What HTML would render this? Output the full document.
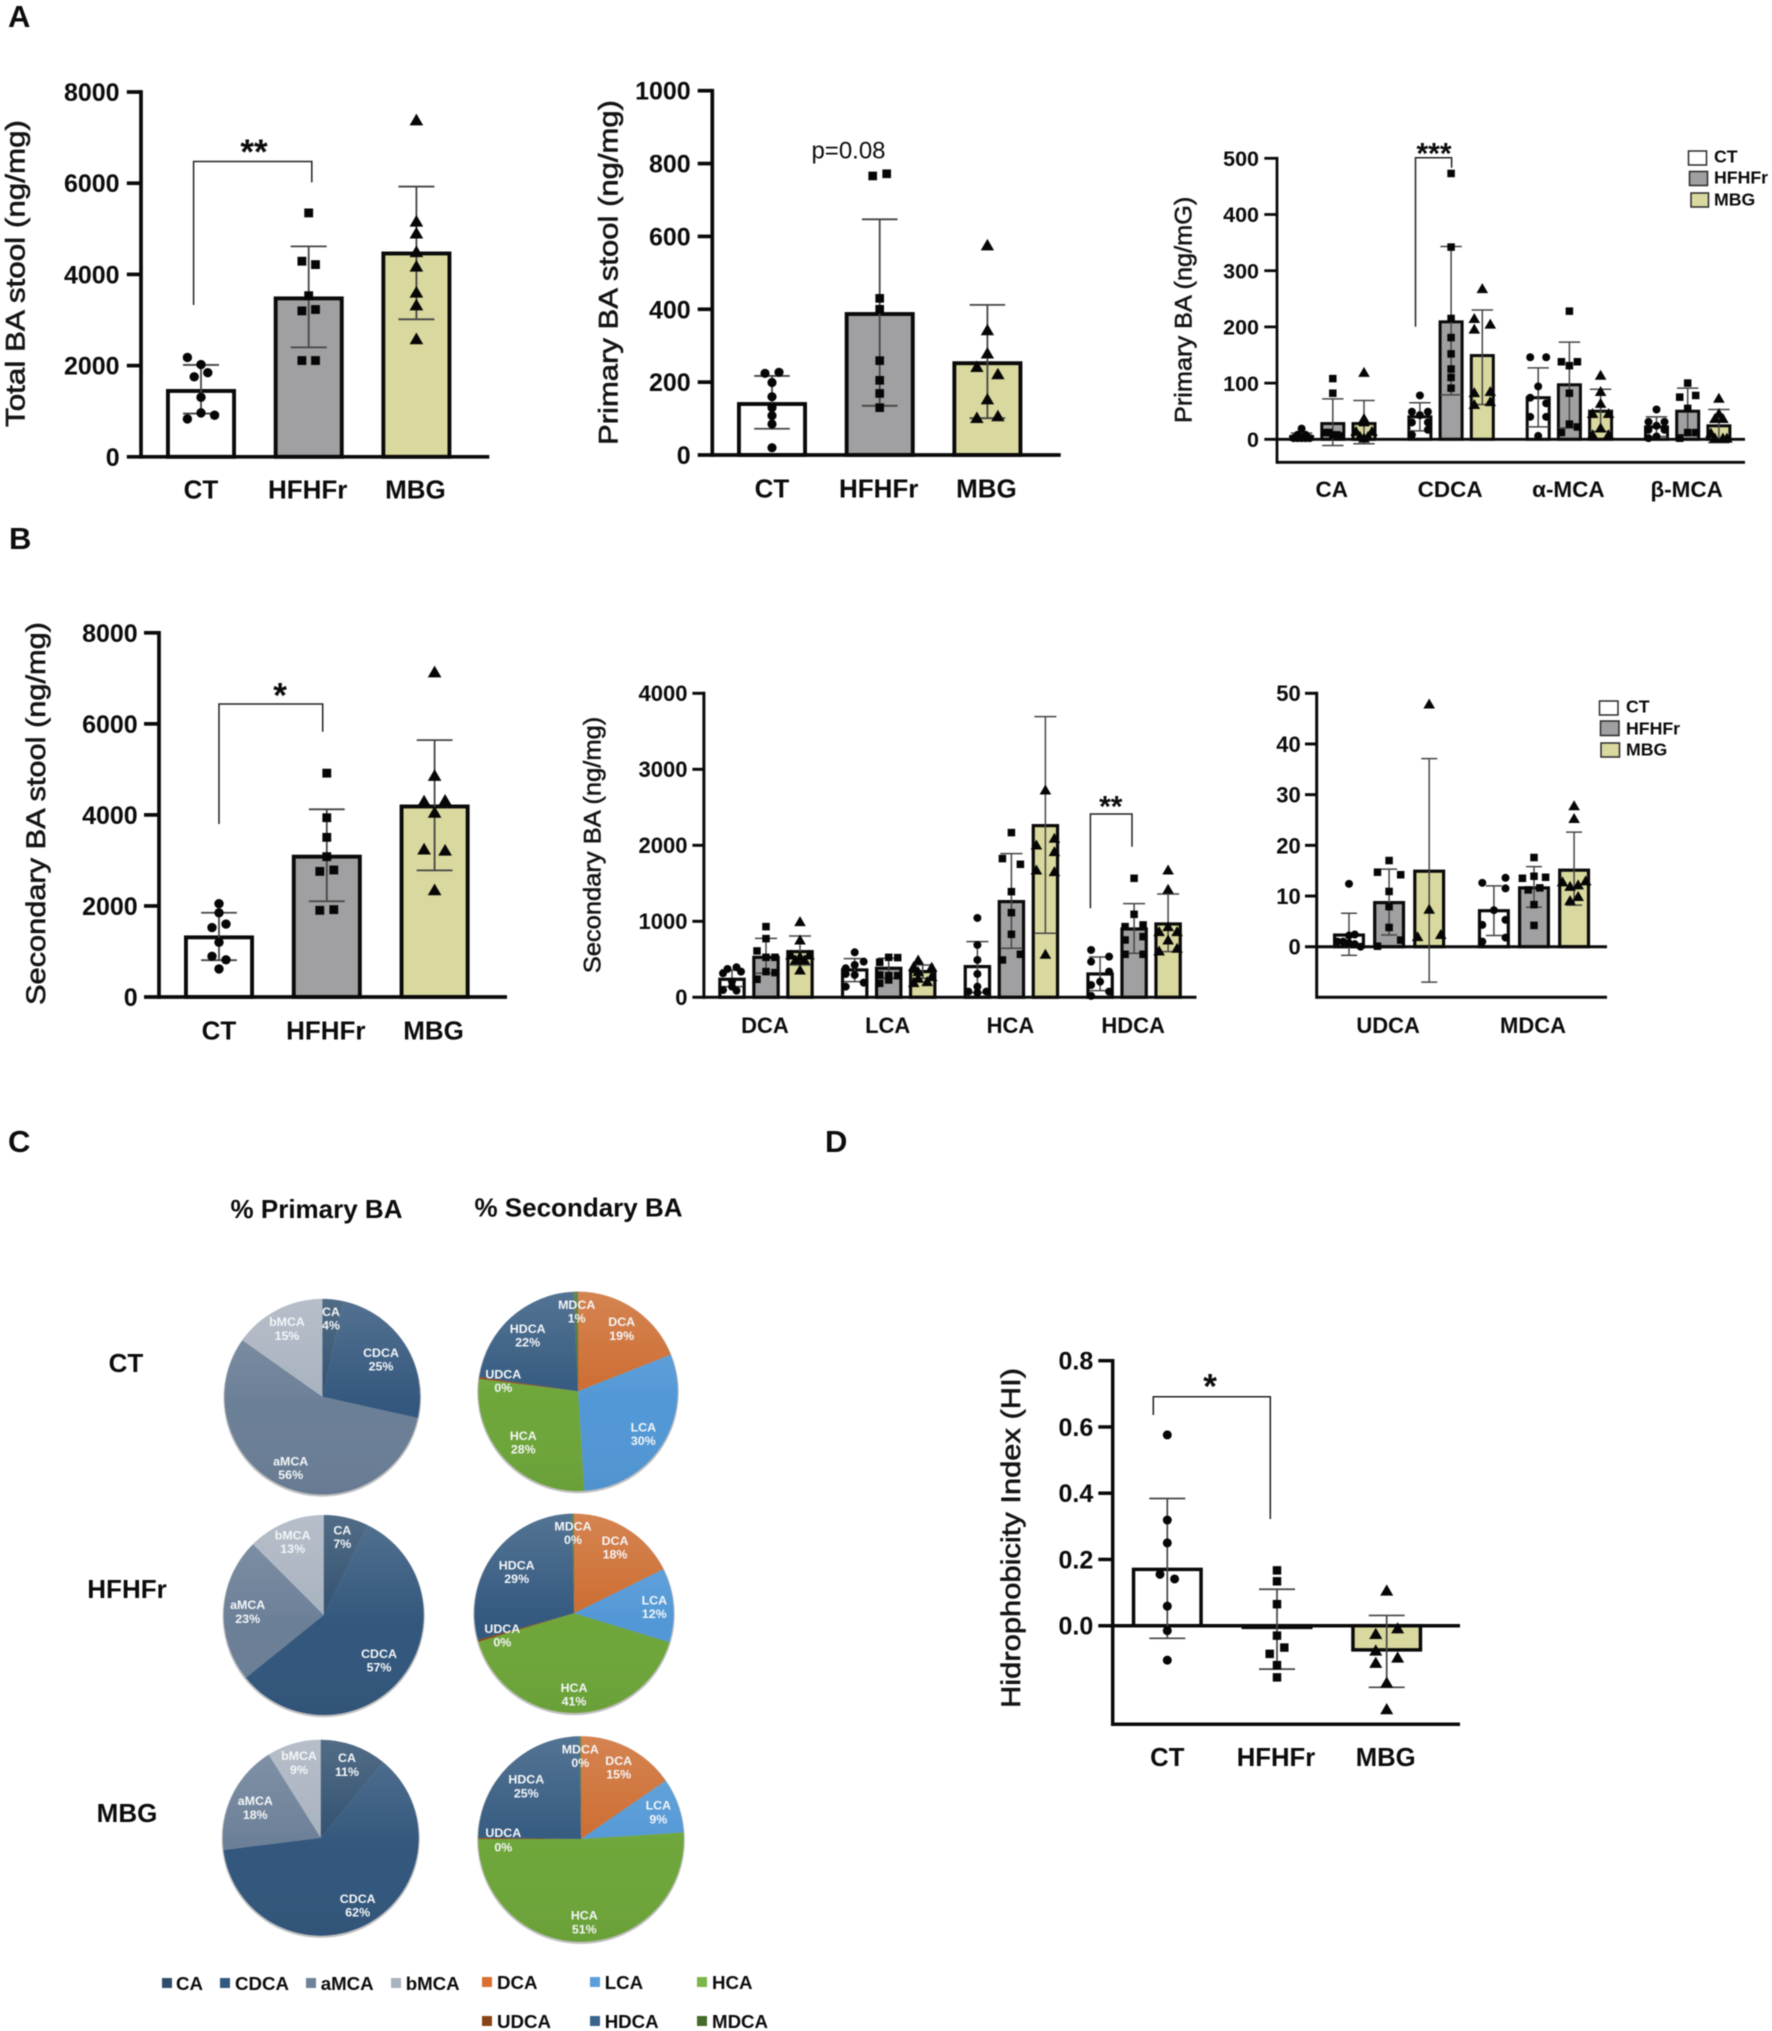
<!DOCTYPE html>
<html lang="en">
<head>
<meta charset="utf-8">
<title>Bile acid panels</title>
<style>
html,body{margin:0;padding:0;background:#fff;width:1772px;height:2031px;overflow:hidden}
svg{display:block;filter:blur(.4px);font-family:"Liberation Sans",Arial,sans-serif}
</style>
</head>
<body>
<svg id="figure" xmlns="http://www.w3.org/2000/svg" width="1772" height="2031" viewBox="0 0 1772 2031">
<rect width="1772" height="2031" fill="#fff"/>
<defs>
<linearGradient id="pieSheen" x1="0" y1="0" x2="0" y2="1">
<stop offset="0" stop-color="#fff" stop-opacity=".16"/>
<stop offset=".55" stop-color="#fff" stop-opacity="0"/>
<stop offset="1" stop-color="#000" stop-opacity=".04"/>
</linearGradient>
</defs>
</svg>
<script>
/* ---------- shared labels ---------- */
const groupNames = ['CT', 'HFHFr', 'MBG'];

/* ---------- A1 total BA ---------- */
const totalTickVals = [0, 2000, 4000, 6000, 8000];
const totalTickLabels = ['0', '2000', '4000', '6000', '8000'];
const totalMeans = [[1444, 3474, 4459]];
const totalHi = [[2015, 4615, 5926]];
const totalLo = [[948, 2400, 3015]];
const totalPts = [[
  [2178, 2022, 1844, 1755, 1304, 963, 911, 830],
  [5348, 4289, 4215, 3533, 3200, 3230, 2111, 2111],
  [7385, 5163, 4904, 4496, 4178, 3607, 3326, 2585]
]];
const totalJit = [[
  [-2, 0, 1, -1, 0, 0, 2, -2],
  [0, -1, 1, 0, -1, 1, -1, 1],
  [0, 0, 0, 0, 0, 0, 0, 0]
]];

/* ---------- A2 primary BA ---------- */
const primaryTickVals = [0, 200, 400, 600, 800, 1000];
const primaryTickLabels = ['0', '200', '400', '600', '800', '1000'];
const primaryMeans = [[140, 387, 252]];
const primaryHi = [[217, 647, 412]];
const primaryLo = [[72, 135, 101]];
const primaryPts = [[
  [224, 227, 199, 160, 130, 108, 85, 20],
  [766, 772, 430, 400, 259, 205, 169, 130],
  [576, 343, 279, 242, 222, 153, 102, 107]
]];
const primaryJit = [[
  [-1, 1, 0, 0, 0, 0, 0, 0],
  [-1, 1, 0, 0, 0, 0, 0, 0],
  [0, 0, 0, -1.5, 1.5, 0, -1.5, 1.5]
]];

/* ---------- A3 primary species ---------- */
const speciesCats = ['CA', 'CDCA', 'α-MCA', 'β-MCA'];
const speciesTickVals = [0, 100, 200, 300, 400, 500];
const speciesTickLabels = ['0', '100', '200', '300', '400', '500'];
const speciesMeans = [[5, 28, 28], [40, 209, 149], [74, 97, 50], [22, 50, 24]];
const speciesHi = [[11, 72, 69], [65, 343, 230], [127, 173, 89], [40, 91, 53]];
const speciesLo = [[-1, -11, -8], [15, 79, 62], [22, 20, 14], [5, 8, -6]];
const speciesPts = [
  [[19, 8, 8, 2, 2, 2, 2, 2], [108, 82, 12, 12, 8, 8, 6, 6], [119, 37, 31, 14, 14, 5, 5, 2]],
  [[78, 49, 49, 43, 30, 30, 8, 17], [473, 342, 215, 181, 152, 125, 110, 91], [268, 215, 205, 196, 83, 85, 62, 67]],
  [[146, 146, 94, 74, 64, 40, 40, 6], [228, 138, 138, 131, 82, 27, 22, 12], [114, 85, 64, 46, 46, 20, 8, 8]],
  [[53, 31, 31, 24, 17, 17, 2, 5], [100, 75, 78, 55, 12, 12, 2, 2], [73, 46, 37, 37, 11, 2, 2, 2]]
];
const speciesJit = [
  [[0, -1, 1, -2, -1, 0, 1, 2], [0, 0, -2, -1, 0, 1, 2, 1], [0, 0, 0, -2, 2, -1, 1, 0]],
  [[0, -2, 2, 0, -2, 2, -2, 2], [0, 0, 0, 0, 0, 0, 0, 0], [0, -2, 2, -2, -2, 2, -2, 2]],
  [[-2, 2, 0, -2, 2, -2, 2, 0], [0, -2, 2, 0, 0, 0, 2, -2], [0, 0, 0, -2, 2, 0, -2, 2]],
  [[0, -2, 2, 0, -2, 2, -2, 0], [0, -2, 2, 0, 0, 2, -2, -2], [0, 0, -1, 1, -2, -1, 1, 2]]
];

/* ---------- B1 secondary BA ---------- */
const secondaryTickVals = [0, 2000, 4000, 6000, 8000];
const secondaryTickLabels = ['0', '2000', '4000', '6000', '8000'];
const secondaryMeans = [[1310, 3083, 4185]];
const secondaryHi = [[1850, 4123, 5642]];
const secondaryLo = [[809, 2104, 2782]];
const secondaryPts = [[
  [2050, 1850, 1526, 1603, 1202, 894, 817, 617],
  [4917, 3938, 3507, 3083, 2759, 2790, 1904, 1919],
  [7137, 4863, 4300, 4316, 4054, 3245, 3222, 2351]
]];
const secondaryJit = [[
  [0, 0, -1, 1, 0, -1, 1, 0],
  [0, 0, 0, 0, -1, 1, -1, 1],
  [0, 0, -1.5, 1.5, 0, -1.5, 1.5, 0]
]];

/* ---------- B2 secondary species ---------- */
const secCats = ['DCA', 'LCA', 'HCA', 'HDCA'];
const secTickVals = [0, 1000, 2000, 3000, 4000];
const secTickLabels = ['0', '1000', '2000', '3000', '4000'];
const secMeans = [[237, 526, 601], [360, 382, 338], [404, 1259, 2259], [307, 899, 965]];
const secHi = [[360, 776, 807], [509, 513, 425], [732, 1890, 3693], [531, 1232, 1360]];
const secLo = [[140, 316, 425], [206, 250, 250], [61, 645, 842], [88, 579, 601]];
const secPts = [
  [[395, 373, 338, 316, 206, 140, 96, 88], [930, 772, 610, 526, 526, 338, 325, 237], [996, 754, 557, 535, 557, 491, 491, 360]],
  [[592, 382, 469, 425, 307, 294, 193, 140], [461, 526, 522, 294, 285, 285, 184, 228], [491, 404, 395, 338, 193, 206, 272, 250]],
  [[1044, 689, 491, 307, 140, 75, 75, 61], [2167, 1825, 1750, 1390, 1114, 829, 566, 491], [2728, 2004, 2092, 1917, 1675, 1654, 566]],
  [[623, 469, 535, 338, 162, 75, 206, 18], [1566, 1092, 930, 952, 754, 798, 566, 566], [1675, 1421, 930, 864, 864, 754, 610, 645]]
];
const secJit = [
  [[1, -1, 2, -2, 0, 0, -2, 1], [0, 0, -2, 0, 2, 0, 2, -2], [0, 0, -2, 0, 2, -1, 1, 0]],
  [[0, -2, 2, 0, -2, 0, 2, -2], [-2, 0, 2, -2, 0, 2, -2, 0], [-1, -2, 2, -1, -2, 1, 2, -1]],
  [[0, 0, 0, 0, 0, -2, 2, 0], [0, -2, 2, 0, 0, 0, 2, -2], [0, -2, 2, 2, -2, 2, 0]],
  [[-2, -2, 2, 2, -2, 2, 0, -2], [0, 0, -2, 2, -2, 2, -2, 2], [0, 0, 0, -2, 2, 0, -2, 2]]
];

/* ---------- B3 UDCA / MDCA ---------- */
const minorCats = ['UDCA', 'MDCA'];
const minorTickVals = [0, 10, 20, 30, 40, 50];
const minorTickLabels = ['0', '10', '20', '30', '40', '50'];
const minorMeans = [[2.3, 8.7, 14.9], [7.1, 11.6, 15.1]];
const minorHi = [[6.6, 15.3, 37.1], [12, 15.8, 22.6]];
const minorLo = [[-1.7, 2.3, -7], [2.2, 7.8, 8.2]];
const minorPts = [
  [[12.4, 2.4, 2.2, 1, 1, 0.5, 0, 0.7], [17, 14.7, 14.2, 10.9, 7.9, 3.8, 1.3, 0.1], [47.9, 7.4, 2, 2.4]],
  [[12.6, 13.6, 11.5, 7.2, 5.3, 4.3, 1.8, 1], [17.6, 13.5, 13.7, 13.9, 11.2, 11.6, 8.3, 4.2], [27.8, 25.3, 12.8, 13, 11.9, 12.2, 9.9, 9.1]]
];
const minorJit = [
  [[0, 1, 0, -2, -1, 1, 2, 0], [0, -2, 2, 0, 0, 0, 2, -2], [0, 0, -2, 2]],
  [[-2, 2, 2, 0, 2, -2, 2, -2], [0, -2, 2, 0, -1, 1, 0, 0], [0, 0, -2, 2, -0.7, 0.7, 0.7, -0.7]]
];

/* ---------- D hydrophobicity ---------- */
const hiTickVals = [0, 0.2, 0.4, 0.6, 0.8];
const hiTickLabels = ['0.0', '0.2', '0.4', '0.6', '0.8'];
const hiMeans = [[0.17, -0.005, -0.073]];
const hiHi = [[0.384, 0.11, 0.031]];
const hiLo = [[-0.038, -0.131, -0.186]];
const hiPts = [[
  [0.576, 0.319, 0.25, 0.155, 0.141, 0.059, -0.015, -0.104],
  [0.167, 0.134, 0.065, -0.03, -0.066, -0.085, -0.119, -0.156],
  [0.106, -0.008, -0.025, -0.075, -0.096, -0.112, -0.172, -0.252]
]];
const hiJit = [[
  [0, 0, 0, -1, 1, 0, 0, 0],
  [0, 0, 0, 0, 1, -1, 0, 0],
  [0, 1.5, -1.5, -1.5, 1.5, -1.5, 0, 0]
]];

/* ---------- C pies ---------- */
const primarySpecies = ['CA', 'CDCA', 'aMCA', 'bMCA'];
const secondarySpecies = ['DCA', 'LCA', 'HCA', 'UDCA', 'HDCA', 'MDCA'];
const pieCtPrimary = [3.5, 25, 56.3, 15.2];
const pieHfPrimary = [7.3, 56.9, 23.3, 12.5];
const pieMbgPrimary = [11, 62, 18.1, 8.9];
const pieCtSecondary = [19, 30, 28, 0.3, 22, 0.7];
const pieHfSecondary = [17.7, 12, 40.7, 0.3, 29, 0.3];
const pieMbgSecondary = [15.4, 8.6, 51, 0.2, 24.6, 0.2];
const pieCtPrimaryText = ['4%', '25%', '56%', '15%'];
const pieHfPrimaryText = ['7%', '57%', '23%', '13%'];
const pieMbgPrimaryText = ['11%', '62%', '18%', '9%'];
const pieCtSecondaryText = ['19%', '30%', '28%', '0%', '22%', '1%'];
const pieHfSecondaryText = ['18%', '12%', '41%', '0%', '29%', '0%'];
const pieMbgSecondaryText = ['15%', '9%', '51%', '0%', '25%', '0%'];

/* ---------- helpers ---------- */
const svg = document.getElementById('figure');
const NS = 'http://www.w3.org/2000/svg';
function el(parent, tag, attrs) {
  const n = document.createElementNS(NS, tag);
  for (const k in attrs) n.setAttribute(k, attrs[k]);
  parent.appendChild(n);
  return n;
}
function txt(parent, str, x, y, fs, opts) {
  const o = opts || {};
  const n = el(parent, 'text', {
    x: x, y: y, 'font-size': fs,
    'font-weight': o.weight || 'bold',
    'text-anchor': o.anchor || 'middle',
    fill: o.fill || '#0c0c0c'
  });
  n.textContent = str;
  return n;
}
const barFills = ['#ffffff', '#a0a0a2', '#d9d89e'];

function marker(g, kind, cx, cy, s) {
  if (kind === 0) return el(g, 'circle', { cx: cx, cy: cy, r: s * 0.5, fill: '#060606' });
  if (kind === 1) return el(g, 'rect', { x: cx - s * 0.47, y: cy - s * 0.47, width: s * 0.94, height: s * 0.94, fill: '#060606' });
  const w = s * 1.45, h = s * 1.25;
  return el(g, 'polygon', {
    points: cx + ',' + (cy - h * 0.55) + ' ' + (cx - w / 2) + ',' + (cy + h * 0.45) + ' ' + (cx + w / 2) + ',' + (cy + h * 0.45),
    fill: '#060606'
  });
}

function drawPanel(name, L, D) {
  const root = el(svg, 'g', {});
  
  
  const maxV = D.tickVals[D.tickVals.length - 1];
  const y = v => L.zero - v * (L.zero - L.top) / maxV;
  const xOf = (g, s) => L.x0 + g * L.groupStep + s * L.barStep;

  D.means.forEach((row, g) => {
    row.forEach((m, s) => {
      const cx = xOf(g, s);
      const catName = D.perBar ? D.cats[s] : D.cats[g] + '-' + groupNames[s];
      const top = Math.min(y(m), L.zero), h = Math.abs(y(m) - L.zero);
      const bar = el(root, 'rect', {
        x: cx - L.barW / 2 + L.barSW / 2, y: top, width: L.barW - L.barSW, height: h,
        fill: barFills[s], stroke: '#0a0a0a', 'stroke-width': L.barSW
      });
      
      
    });
  });

  /* axes */
  const axis = el(root, 'g', { stroke: '#0a0a0a', 'stroke-width': L.axisW, fill: 'none' });
  
  
  const bottom = L.bottom || L.zero;
  el(axis, 'line', { x1: L.axisX, x2: L.axisX, y1: L.top - L.axisW / 2, y2: bottom + L.axisW / 2 });
  el(axis, 'line', { x1: L.tickLeft, x2: L.xEnd, y1: L.zero, y2: L.zero });
  if (L.bottom) el(axis, 'line', { x1: L.axisX, x2: L.xEnd, y1: L.bottom, y2: L.bottom });
  D.tickVals.forEach((v, i) => {
    if (v !== 0) el(axis, 'line', { x1: L.tickLeft, x2: L.axisX, y1: y(v), y2: y(v) });
    const t = txt(root, D.tickLabels[i], L.tickRight, y(v) + L.tickFs * 0.36, L.tickFs, { anchor: 'end' });
    
    
  });

  /* error bars and points */
  D.means.forEach((row, g) => {
    row.forEach((m, s) => {
      const cx = xOf(g, s);
      const eg = el(root, 'g', { stroke: '#464646', 'stroke-width': L.errW, fill: 'none' });
      
      
      const yh = y(D.hi[g][s]), yl = y(D.lo[g][s]);
      el(eg, 'line', { x1: cx, x2: cx, y1: yh, y2: yl });
      el(eg, 'line', { x1: cx - L.capHalf, x2: cx + L.capHalf, y1: yh, y2: yh });
      el(eg, 'line', { x1: cx - L.capHalf, x2: cx + L.capHalf, y1: yl, y2: yl });
      D.pts[g][s].forEach((v, i) => {
        const p = marker(root, s, cx + D.jit[g][s][i] * L.jitUnit, y(v), L.mSize);
        
        
      });
    });
  });

  /* category labels */
  if (D.perBar) {
    D.cats.forEach((c, s) => {
      const t = txt(root, c, xOf(0, s) - (s ? 1 : 0), L.labelY + L.labelFs * 0.36, L.labelFs);
      
      
    });
  } else {
    D.cats.forEach((c, g) => {
      const t = txt(root, c, xOf(g, 1) + L.labelDx, L.labelY + L.labelFs * 0.36, L.labelFs);
      
      
    });
  }

  /* y title (not every panel has one) */
  if (L.title) {
    const T = L.title;
    const mid = (T.y0 + T.y1) / 2;
    const title = el(root, 'text', {
      transform: 'translate(' + T.x + ' ' + mid + ') rotate(-90)',
      'font-size': T.fs, 'text-anchor': 'middle', fill: '#141414',
      stroke: '#141414', 'stroke-width': T.sw === undefined ? 0.6 : T.sw,
      textLength: T.y1 - T.y0, lengthAdjust: 'spacingAndGlyphs'
    });
    title.textContent = T.text;
    
    
  }

  /* significance bracket */
  if (L.bracket) {
    const B = L.bracket;
    const pl = el(root, 'polyline', {
      points: B.l + ',' + B.lb + ' ' + B.l + ',' + B.top + ' ' + B.r + ',' + B.top + ' ' + B.r + ',' + B.rb,
      fill: 'none', stroke: '#222', 'stroke-width': 1.5
    });
    
    
  }
  if (L.star) {
    const S = L.star;
    const st = txt(root, S.t, S.x, S.y + S.fs * 0.58, S.fs);
    
    
  }
  return root;
}

/* ---------- panels ---------- */
drawPanel('panel-a-total-ba',
  { axisX: 141, top: 92, zero: 456.8, tickLeft: 126.8, xEnd: 489.3, axisW: 3.7, x0: 201, barStep: 107.7, groupStep: 0, barW: 70, barSW: 3.9, capHalf: 18, errW: 1.8, jitUnit: 6.8, mSize: 9.4, tickFs: 25, tickRight: 119.6, labelFs: 26, labelY: 489,
    title: { text: 'Total BA stool (ng/mg)', x: 24.5, y0: 120, y1: 427, fs: 27 },
    bracket: { l: 193.6, r: 311.8, top: 161.5, lb: 305, rb: 182.4 },
    star: { t: '**', x: 254, y: 143.6, fs: 35 } },
  { cats: groupNames, perBar: true, tickVals: totalTickVals, tickLabels: totalTickLabels, means: totalMeans, hi: totalHi, lo: totalLo, pts: totalPts, jit: totalJit });

const primaryPanel = drawPanel('panel-a-primary-ba',
  { axisX: 712.3, top: 90.7, zero: 455, tickLeft: 697.7, xEnd: 1060.7, axisW: 3.7, x0: 772, barStep: 107.7, groupStep: 0, barW: 70, barSW: 3.9, capHalf: 17.8, errW: 1.8, jitUnit: 7, mSize: 9.2, tickFs: 25, tickRight: 690.7, labelFs: 26, labelY: 488,
    title: { text: 'Primary BA stool (ng/mg)', x: 617.3, y0: 100, y1: 445, fs: 27 } },
  { cats: groupNames, perBar: true, tickVals: primaryTickVals, tickLabels: primaryTickLabels, means: primaryMeans, hi: primaryHi, lo: primaryLo, pts: primaryPts, jit: primaryJit });
const pVal = txt(primaryPanel, 'p=0.08', 848.5, 158.5, 24, { weight: 'normal' });



drawPanel('panel-a-primary-species',
  { axisX: 1277, top: 158.3, zero: 439.3, bottom: 462.3, tickLeft: 1264.3, xEnd: 1745, axisW: 2.8, x0: 1301.6, barStep: 31.2, groupStep: 118.3, barW: 25, barSW: 3, capHalf: 10.7, errW: 1.5, jitUnit: 4, mSize: 8, tickFs: 21.5, tickRight: 1259, labelFs: 22.5, labelY: 489, labelDx: -1,
    title: { text: 'Primary BA (ng/mG)', x: 1191.7, y0: 196.7, y1: 423, fs: 24, sw: 0.5 },
    bracket: { l: 1415.5, r: 1451.6, top: 157.7, lb: 326.7, rb: 167.7 },
    star: { t: '***', x: 1434, y: 146, fs: 30 } },
  { cats: speciesCats, tickVals: speciesTickVals, tickLabels: speciesTickLabels, means: speciesMeans, hi: speciesHi, lo: speciesLo, pts: speciesPts, jit: speciesJit });

drawPanel('panel-b-secondary-ba',
  { axisX: 159, top: 632.8, zero: 997, tickLeft: 144, xEnd: 507, axisW: 3.7, x0: 219, barStep: 107.8, groupStep: 0, barW: 70, barSW: 3.9, capHalf: 17.9, errW: 1.8, jitUnit: 7, mSize: 9.4, tickFs: 25, tickRight: 137.7, labelFs: 26, labelY: 1030,
    title: { text: 'Secondary BA stool (ng/mg)', x: 44.8, y0: 622, y1: 1005, fs: 27 },
    bracket: { l: 219, r: 322.7, top: 704, lb: 824, rb: 731.8 },
    star: { t: '*', x: 280, y: 687, fs: 35 } },
  { cats: groupNames, perBar: true, tickVals: secondaryTickVals, tickLabels: secondaryTickLabels, means: secondaryMeans, hi: secondaryHi, lo: secondaryLo, pts: secondaryPts, jit: secondaryJit });

drawPanel('panel-b-secondary-species',
  { axisX: 703.9, top: 693.3, zero: 997.3, tickLeft: 692.4, xEnd: 1196.5, axisW: 3, x0: 732, barStep: 34, groupStep: 122.7, barW: 27.5, barSW: 3.2, capHalf: 11, errW: 1.5, jitUnit: 4.5, mSize: 8, tickFs: 22, tickRight: 687.5, labelFs: 22, labelY: 1025, labelDx: -1,
    title: { text: 'Secondary BA (ng/mg)', x: 600.6, y0: 716.7, y1: 973.3, fs: 24, sw: 0.5 },
    bracket: { l: 1090.4, r: 1132, top: 814, lb: 908.3, rb: 846.7 },
    star: { t: '**', x: 1110.8, y: 799.3, fs: 30 } },
  { cats: secCats, tickVals: secTickVals, tickLabels: secTickLabels, means: secMeans, hi: secHi, lo: secLo, pts: secPts, jit: secJit });

drawPanel('panel-b-udca-mdca',
  { axisX: 1316.7, top: 693.3, zero: 946.7, bottom: 997.3, tickLeft: 1305, xEnd: 1607, axisW: 3, x0: 1349, barStep: 40.1, groupStep: 144.9, barW: 32, barSW: 3.2, capHalf: 8, errW: 1.5, jitUnit: 5.8, mSize: 8, tickFs: 22, tickRight: 1300.7, labelFs: 22, labelY: 1025, labelDx: -1 },
  { cats: minorCats, tickVals: minorTickVals, tickLabels: minorTickLabels, means: minorMeans, hi: minorHi, lo: minorLo, pts: minorPts, jit: minorJit });

drawPanel('panel-d-hydrophobicity',
  { axisX: 1112.7, top: 1360.7, zero: 1625.7, bottom: 1724.3, tickLeft: 1098.3, xEnd: 1460, axisW: 3.5, x0: 1167.3, barStep: 109.7, groupStep: 0, barW: 71, barSW: 3.5, capHalf: 18, errW: 1.7, jitUnit: 7.3, mSize: 9, tickFs: 25, tickRight: 1093.3, labelFs: 25.7, labelY: 1756.7,
    title: { text: 'Hidrophobicity Index (HI)', x: 1020, y0: 1368, y1: 1708, fs: 27 },
    bracket: { l: 1153.3, r: 1270.3, top: 1396.7, lb: 1415, rb: 1519 },
    star: { t: '*', x: 1210, y: 1378, fs: 35 } },
  { cats: groupNames, perBar: true, tickVals: hiTickVals, tickLabels: hiTickLabels, means: hiMeans, hi: hiHi, lo: hiLo, pts: hiPts, jit: hiJit });

/* ---------- bar legends ---------- */
function barLegend(name, boxes, textX, textY, fs) {
  const g = el(svg, 'g', {});
  
  
  groupNames.forEach((n, i) => {
    const b = boxes[i];
    const sw = el(g, 'rect', { x: b[0], y: b[1], width: b[2] - b[0], height: b[3] - b[1], fill: barFills[i], stroke: '#2a2a2a', 'stroke-width': 1.5 });
    
    
    const t = txt(g, n, textX, textY[i] + fs * 0.36, fs, { anchor: 'start' });
    
    
  });
}
barLegend('legend-primary-species', [[1688.5, 151, 1706.5, 165], [1689.5, 171.5, 1707.5, 185.5], [1691, 193, 1708.5, 207]], 1714, [156, 177.3, 199.3], 17.7);
barLegend('legend-udca-mdca', [[1599.5, 701, 1618, 715], [1600.5, 721, 1619, 735.5], [1601, 743, 1619.5, 757]], 1626, [706, 728.3, 749.3], 17.7);

/* ---------- pies ---------- */
const primaryColors = ['#30506f', '#33577d', '#6b7f97', '#a8b2bf'];
const secondaryColors = ['#cd6c30', '#5298d6', '#6ea63a', '#8e4216', '#33597f', '#44702e'];
function drawPie(name, cx, cy, r, values, colors, names, pcts, labelPos) {
  const g = el(svg, 'g', {});
  
  
  el(g, 'circle', { cx: cx, cy: cy + 1.2, r: r + 1, fill: '#8d8d8d', opacity: 0.55 });
  const total = values.reduce((a, b) => a + b, 0);
  let acc = 0;
  values.forEach((v, i) => {
    const a0 = acc / total * 2 * Math.PI - Math.PI / 2;
    acc += v;
    const a1 = acc / total * 2 * Math.PI - Math.PI / 2;
    const large = a1 - a0 > Math.PI ? 1 : 0;
    const slice = el(g, 'path', {
      d: 'M' + cx + ' ' + cy + 'L' + (cx + r * Math.cos(a0)) + ' ' + (cy + r * Math.sin(a0)) +
         'A' + r + ' ' + r + ' 0 ' + large + ' 1 ' + (cx + r * Math.cos(a1)) + ' ' + (cy + r * Math.sin(a1)) + 'Z',
      fill: colors[i]
    });
    
    
  });
  el(g, 'circle', { cx: cx, cy: cy, r: r, fill: 'url(#pieSheen)' });
  names.forEach((n, i) => {
    const p = labelPos[i];
    const a = txt(g, n, p[0], p[1] + 4.5, 12.4, { fill: '#f4f6f8' });
    
    
    const b = txt(g, pcts[i], p[0], p[2] + 4.5, 12.4, { fill: '#f4f6f8' });
    
    
  });
}
drawPie('pie-ct-primary', 322.3, 1396.7, 97.8, pieCtPrimary, primaryColors, primarySpecies, pieCtPrimaryText,
  [[331, 1311.7, 1325], [381, 1352.3, 1366], [290.7, 1461, 1474.7], [287, 1321.7, 1335.3]]);
drawPie('pie-hfhfr-primary', 323.7, 1615, 100, pieHfPrimary, primaryColors, primarySpecies, pieHfPrimaryText,
  [[342.3, 1530, 1543.7], [379, 1653.3, 1667], [247.7, 1604.7, 1618.7], [292.7, 1535, 1548.7]]);
drawPie('pie-mbg-primary', 320.7, 1837.7, 98, pieMbgPrimary, primaryColors, primarySpecies, pieMbgPrimaryText,
  [[347, 1757.7, 1771.3], [357.7, 1898.3, 1912], [255.3, 1800.7, 1814.3], [299, 1755.3, 1769.3]]);
drawPie('pie-ct-secondary', 578, 1391.3, 99.7, pieCtSecondary, secondaryColors, secondarySpecies, pieCtSecondaryText,
  [[621.7, 1321.7, 1335.3], [643.3, 1427, 1440.7], [523.3, 1435.3, 1449], [503.3, 1374, 1387.7], [527.7, 1328.3, 1342], [576.7, 1304.3, 1318]]);
drawPie('pie-hfhfr-secondary', 574, 1613.3, 99.7, pieHfSecondary, secondaryColors, secondarySpecies, pieHfSecondaryText,
  [[615, 1540.3, 1554], [654.3, 1600, 1613.7], [574, 1687.3, 1701], [502.3, 1628.7, 1642], [516.7, 1565, 1578.7], [573, 1526, 1539.7]]);
drawPie('pie-mbg-secondary', 581, 1839, 102.8, pieMbgSecondary, secondaryColors, secondarySpecies, pieMbgSecondaryText,
  [[618.7, 1760.3, 1774], [658.3, 1805, 1819], [584.3, 1915, 1929], [503.3, 1832.7, 1847], [526.3, 1779, 1793], [580.3, 1749, 1762.7]]);

/* ---------- pie legend ---------- */
const pieLegendNames = ['CA', 'CDCA', 'aMCA', 'bMCA', 'DCA', 'LCA', 'HCA', 'UDCA', 'HDCA', 'MDCA'];
const pieLegendColors = ['#2f4e6e', '#33587f', '#6f829a', '#a9b3c0', '#d9702f', '#5a9fdb', '#7ab648', '#8a4218', '#3b638c', '#456b2b'];
const pieLegendSwatchX = [162, 220, 306, 391, 482, 590, 697, 482, 590, 697];
const pieLegendTextX = [176, 235, 320.7, 405.7, 497, 604.7, 712, 497, 604.7, 712];
const pieLegendY = [1983, 1983, 1983, 1983, 1982, 1982, 1982, 2021, 2021, 2021];
const pieLegend = el(svg, 'g', {});


pieLegendNames.forEach((n, i) => {
  const sw = el(pieLegend, 'rect', { x: pieLegendSwatchX[i], y: pieLegendY[i] - 5, width: 10, height: 10, fill: pieLegendColors[i] });
  
  
  const t = txt(pieLegend, n, pieLegendTextX[i], pieLegendY[i] + 6.8, 18.7, { anchor: 'start' });
  
  
});

/* ---------- headings ---------- */
const headingText = ['A', 'B', 'C', 'D', '% Primary BA', '% Secondary BA', 'CT', 'HFHFr', 'MBG'];
const headingX = [8, 9, 8, 825, 316.5, 578.5, 126, 127, 127];
const headingY = [27, 549, 1152, 1152, 1218, 1216.5, 1372, 1598, 1822];
const headingSize = [31, 31, 31, 31, 26, 26, 26, 26, 26];
const headingNames = ['panel-label-a', 'panel-label-b', 'panel-label-c', 'panel-label-d', 'primary-pie-heading', 'secondary-pie-heading', 'row-label-ct', 'row-label-hfhfr', 'row-label-mbg'];
headingText.forEach((s, i) => {
  const h = txt(svg, s, headingX[i], headingY[i], headingSize[i], { anchor: i < 4 ? 'start' : 'middle' });
  
  
});
</script>
</body>
</html>
